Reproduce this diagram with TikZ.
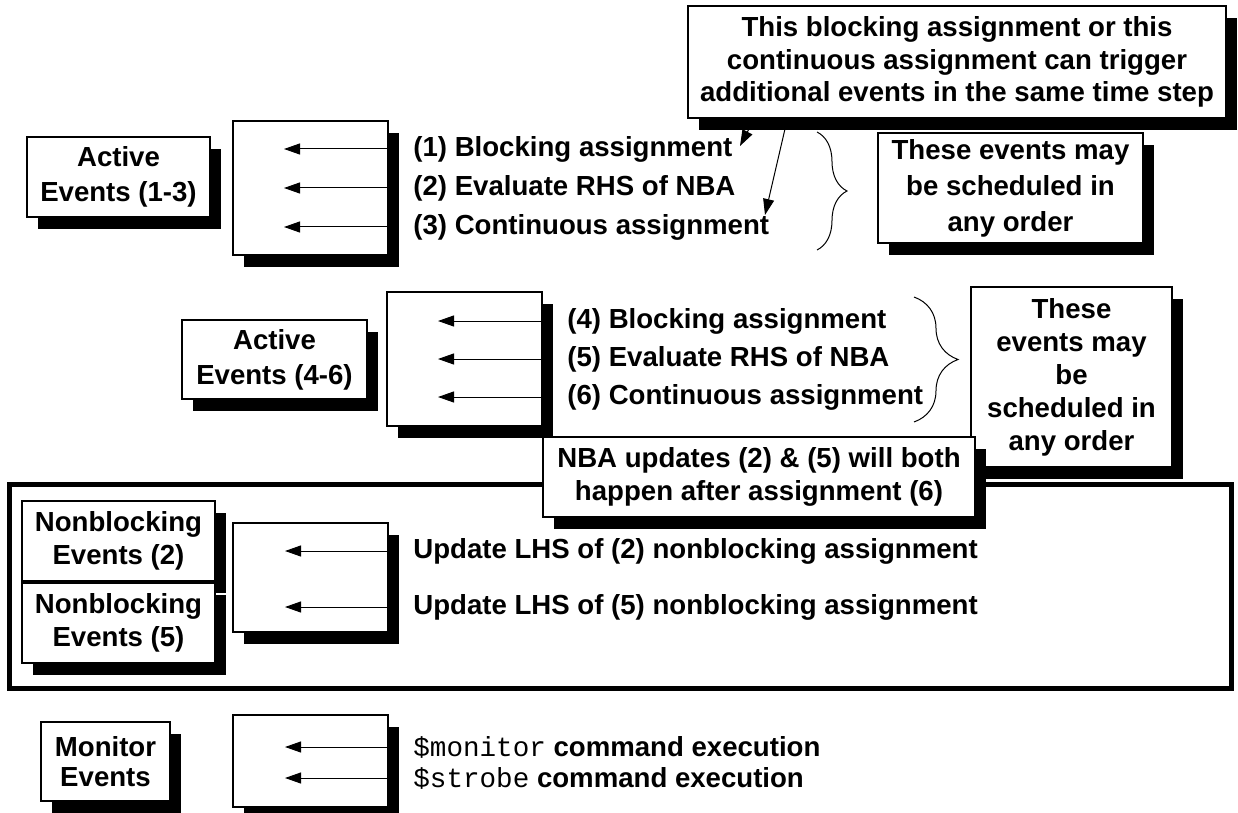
\documentclass[tikz,border=0pt]{standalone}
\usepackage{fontspec}
\setmainfont{Liberation Sans}
\setmonofont{Liberation Mono}
\usetikzlibrary{shadows,arrows.meta,decorations.pathreplacing}

\newcommand{\evf}[1]{\bfseries\fontsize{13.8}{#1}\selectfont}

\tikzset{
  evbox/.style={draw, fill=white, line width=0.6pt, align=center, inner sep=2pt,
    drop shadow={shadow xshift=5.5pt, shadow yshift=-6pt, fill=black, opacity=1}},
  qbox/.style={evbox, minimum width=77.5pt},
  rowtxt/.style={anchor=west, inner sep=0pt},
  ptr/.style={-{Triangle[length=8pt,width=5.5pt]}, line width=0.5pt},
  brc/.style={decorate, decoration={brace, amplitude=#1}, line width=0.5pt},
}

\begin{document}
\begin{tikzpicture}[x=0.5pt, y=-0.5pt, font=\evf{18}]
  \useasboundingbox (0,0) rectangle (1238,813);

  % first group of active events
  \node[evbox, minimum width=91.5pt, minimum height=40pt, font=\evf{17.5}] (act1) at (118.5,177) {Active\\Events (1-3)};
  \node[qbox, minimum height=67pt] (q1) at (310.5,188) {};
  \foreach \t [count=\i] in {Blocking assignment, Evaluate RHS of NBA, Continuous assignment}{
    \node[rowtxt] (r\i) at (413,110+39*\i) {(\i) \t};
    \coordinate (h\i) at (284,110+39*\i);
    \draw[ptr] (q1.east |- h\i) -- (h\i);
  }

  \node[evbox, minimum width=269pt, minimum height=56pt, font=\evf{16.25}] (trig) at (957,62)
    {This blocking assignment or this\\continuous assignment can trigger\\additional events in the same time step};
  \coordinate (k1) at (740,146);
  \coordinate (k3) at (765,215);
  \draw[ptr] (trig.south west) ++(67,0) -- (k1);
  \draw[ptr] (trig.south west) ++(100,0) -- (k3);

  \draw[brc=15pt] (817,132) -- (817,250);
  \node[evbox, minimum width=132.5pt, minimum height=55pt] (ord1) at (1010.5,188)
    {These events may\\be scheduled in\\any order};

  % second group of active events
  \node[evbox, minimum width=92.5pt, minimum height=39.5pt, font=\evf{17.5}] (act2) at (274.5,359.5) {Active\\Events (4-6)};
  \node[qbox, minimum height=67pt] (q2) at (464.5,359) {};
  \foreach \t [count=\i from 4] in {Blocking assignment, Evaluate RHS of NBA, Continuous assignment}{
    \node[rowtxt] (r\i) at (567,169+38*\i) {(\i) \t};
    \coordinate (h\i) at (438,169+38*\i);
    \draw[ptr] (q2.east |- h\i) -- (h\i);
  }

  \draw[brc=22pt] (914,297) -- (914,422);
  \node[evbox, minimum width=100.5pt, minimum height=90pt, font=\evf{16.5}] (ord2) at (1071.5,377)
    {These\\events may\\be\\scheduled in\\any order};

  % nonblocking region
  \draw[line width=2.5pt] (9,484) rectangle (1231,688);
  \node[evbox, minimum width=216pt, minimum height=40pt, font=\evf{16.5}] (nba) at (759,477)
    {NBA updates (2) \& (5) will both\\happen after assignment (6)};

  \node[evbox, minimum width=96.5pt, minimum height=40pt, font=\evf{16.5}] (nb1) at (118.5,541) {Nonblocking\\Events (2)};
  \node[evbox, minimum width=96.5pt, minimum height=40pt, font=\evf{16.5}] (nb2) at (118.5,623) {Nonblocking\\Events (5)};
  \node[qbox, minimum height=54.5pt] (q3) at (310.5,577.5) {};
  \foreach \n [count=\i] in {2,5}{
    \node[rowtxt] (u\i) at (413,495+56*\i) {Update LHS of (\n) nonblocking assignment};
    \coordinate (g\i) at (285,495+56*\i);
    \draw[ptr] (q3.east |- g\i) -- (g\i);
  }

  % monitor events
  \node[evbox, minimum width=64.5pt, minimum height=39.5pt, font=\evf{15}] (mon) at (105.5,761.5) {Monitor\\Events};
  \node[qbox, minimum height=46pt] (q4) at (310.5,761) {};
  \foreach \c [count=\i] in {monitor,strobe}{
    \node[rowtxt] (m\i) at (413,716+31*\i) {{\ttfamily\mdseries\$\c} command execution};
    \coordinate (f\i) at (285,716+31*\i);
    \draw[ptr] (q4.east |- f\i) -- (f\i);
  }
\end{tikzpicture}
\end{document}
